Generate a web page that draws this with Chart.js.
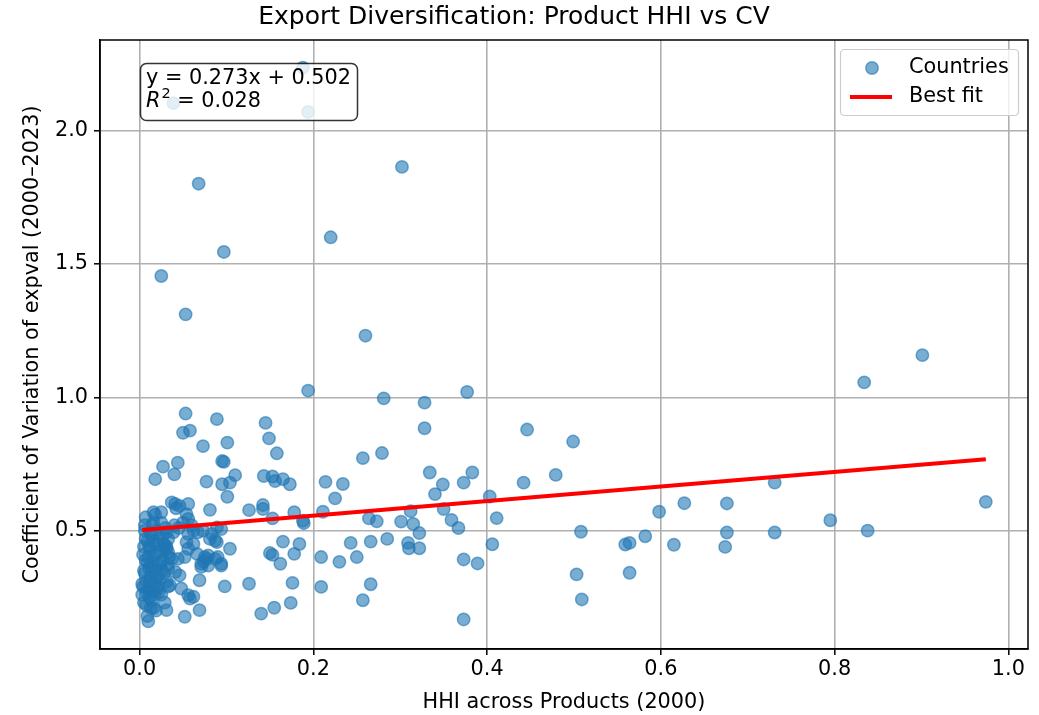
<!DOCTYPE html>
<html>
<head>
<meta charset="utf-8">
<script src="https://cdn.jsdelivr.net/npm/chart.js@4.4.1/dist/chart.umd.min.js"></script>
<style>
html,body{margin:0;padding:0;background:#fff;}
#wrap{width:1039px;height:715px;position:relative;}
</style>
</head>
<body>
<div id="wrap"><canvas id="c" width="1039" height="715"></canvas></div>
<script>
// ---- Data ----
const hhi = [
  0.188,0.039,0.194,0.302,0.068,0.220,0.097,0.025,0.053,0.260,
  0.194,0.281,0.377,0.328,0.328,0.446,0.499,0.901,0.834,0.053,
  0.089,0.145,0.050,0.058,0.149,0.101,0.073,0.158,0.279,0.257,
  0.095,0.097,0.044,0.027,0.040,0.110,0.143,0.153,0.018,0.156,
  0.165,0.077,0.095,0.104,0.173,0.214,0.234,0.334,0.383,0.479,
  0.349,0.373,0.442,0.731,0.101,0.225,0.340,0.403,0.627,0.676,
  0.974,0.598,0.037,0.041,0.046,0.056,0.042,0.054,0.056,0.081,
  0.016,0.025,0.126,0.142,0.142,0.153,0.178,0.188,0.189,0.211,
  0.264,0.273,0.301,0.312,0.315,0.322,0.350,0.359,0.367,0.411,
  0.089,0.094,0.795,0.838,0.508,0.582,0.676,0.731,0.031,0.039,
  0.033,0.029,0.056,0.062,0.067,0.073,0.081,0.087,0.083,0.104,
  0.054,0.062,0.056,0.066,0.052,0.044,0.037,0.033,0.075,0.079,
  0.087,0.090,0.094,0.071,0.089,0.150,0.153,0.162,0.165,0.178,
  0.184,0.209,0.243,0.266,0.285,0.309,0.310,0.322,0.406,0.230,
  0.250,0.373,0.389,0.559,0.564,0.615,0.674,0.031,0.033,0.041,
  0.046,0.031,0.035,0.048,0.056,0.062,0.058,0.069,0.071,0.079,
  0.094,0.098,0.069,0.052,0.031,0.126,0.140,0.155,0.174,0.176,
  0.209,0.266,0.257,0.373,0.503,0.509,0.564,0.074,0.077,0.003,
  0.004,0.005,0.006,0.006,0.007,0.008,0.008,0.009,0.010,0.010,
  0.011,0.012,0.012,0.013,0.013,0.014,0.015,0.015,0.016,0.017,
  0.018,0.018,0.019,0.020,0.020,0.021,0.022,0.023,0.024,0.025,
  0.026,0.027,0.028,0.029,0.030,0.031,0.033,0.034,0.006,0.009,
  0.011,0.014,0.016,0.019,0.022,0.004,0.007,0.018,0.025,0.040,
  0.045,0.050,0.060,0.003,0.005,0.010,0.005,0.008,0.012,0.014,
  0.017,0.019,0.021,0.023,0.026,0.011,0.007,0.016,0.013,0.024,
  0.009,0.020,0.028,0.032
];
const cv = [
  2.236,2.103,2.070,1.864,1.801,1.600,1.545,1.455,1.311,1.231,
  1.025,0.996,1.020,0.980,0.884,0.879,0.834,1.158,1.056,0.939,
  0.918,0.904,0.867,0.875,0.846,0.830,0.817,0.790,0.791,0.772,
  0.761,0.758,0.755,0.740,0.711,0.708,0.705,0.703,0.693,0.686,
  0.693,0.684,0.674,0.680,0.674,0.683,0.675,0.718,0.718,0.709,
  0.673,0.680,0.680,0.680,0.627,0.621,0.637,0.628,0.603,0.602,
  0.608,0.571,0.606,0.600,0.593,0.600,0.584,0.562,0.544,0.578,
  0.569,0.569,0.577,0.596,0.581,0.546,0.569,0.537,0.528,0.571,
  0.546,0.535,0.534,0.573,0.525,0.491,0.581,0.540,0.510,0.547,
  0.512,0.506,0.539,0.500,0.496,0.479,0.493,0.493,0.494,0.494,
  0.469,0.444,0.488,0.500,0.494,0.500,0.469,0.463,0.488,0.432,
  0.457,0.450,0.432,0.413,0.401,0.394,0.394,0.419,0.401,0.407,
  0.394,0.401,0.376,0.376,0.457,0.416,0.409,0.376,0.459,0.413,
  0.450,0.401,0.454,0.459,0.469,0.454,0.434,0.434,0.449,0.383,
  0.401,0.392,0.377,0.448,0.454,0.447,0.439,0.434,0.357,0.345,
  0.332,0.308,0.295,0.283,0.258,0.252,0.245,0.314,0.364,0.369,
  0.369,0.291,0.202,0.177,0.202,0.301,0.189,0.211,0.229,0.304,
  0.289,0.299,0.239,0.167,0.336,0.242,0.342,0.384,0.394,0.26,
  0.29,0.44,0.50,0.52,0.47,0.31,0.22,0.18,0.16,0.40,
  0.36,0.43,0.49,0.27,0.33,0.24,0.38,0.52,0.46,0.30,
  0.35,0.41,0.20,0.28,0.50,0.45,0.37,0.32,0.42,0.26,
  0.48,0.39,0.34,0.23,0.51,0.44,0.29,0.40,0.34,0.38,
  0.25,0.48,0.21,0.32,0.27,0.41,0.55,0.56,0.53,0.52,
  0.51,0.53,0.52,0.30,0.23,0.28,0.35,0.27,0.31,0.36,
  0.26,0.42,0.29,0.47,0.35,0.44,0.39,0.53,0.21,0.38,
  0.46,0.33,0.45,0.37
];
const fitSlope = 0.273;
const fitIntercept = 0.502;
const fitR2 = 0.028;
const xTicks = [0.0, 0.2, 0.4, 0.6, 0.8, 1.0];
const yTicks = [0.5, 1.0, 1.5, 2.0];
const titleText = 'Export Diversification: Product HHI vs CV';
const xLabel = 'HHI across Products (2000)';
const yLabel = 'Coefficient of Variation of expval (2000\u20132023)';
const seriesNames = ['Countries', 'Best fit'];

// ---- build datasets ----
const pts = hhi.map((x, i) => ({x: x, y: cv[i]}));
const dxMin = Math.min(...hhi), dxMax = Math.max(...hhi);
const dyMin = Math.min(...cv), dyMax = Math.max(...cv);
const padX = (dxMax - dxMin) * 0.05, padY = (dyMax - dyMin) * 0.05;
const fitPts = [dxMin, dxMax].map(x => ({x: x, y: fitSlope * x + fitIntercept}));

const FONT = 'DejaVu Sans';
const FS = 20.8;
const blueFill = 'rgba(31,119,180,0.6)';

const decor = {
  id: 'decor',
  afterDatasetsDraw(chart) {
    const ctx = chart.ctx, a = chart.chartArea;
    ctx.save();
    // frame
    ctx.strokeStyle = '#000'; ctx.lineWidth = 1.5;
    ctx.strokeRect(a.left, a.top, a.right - a.left, a.bottom - a.top);
    // annotation box
    ctx.beginPath();
    ctx.roundRect(140.5, 63.5, 217, 57, 6);
    ctx.fillStyle = 'rgba(255,255,255,0.8)'; ctx.fill();
    ctx.strokeStyle = 'rgba(0,0,0,0.8)'; ctx.lineWidth = 1.5; ctx.stroke();
    ctx.fillStyle = '#000'; ctx.textBaseline = 'middle'; ctx.textAlign = 'left';
    ctx.font = FS + 'px "' + FONT + '"';
    ctx.fillText('y = ' + fitSlope.toFixed(3) + 'x + ' + fitIntercept.toFixed(3), 146, 79);
    ctx.font = 'italic ' + FS + 'px "' + FONT + '"';
    ctx.fillText('R', 146, 102);
    let w = ctx.measureText('R').width;
    ctx.font = '14.5px "' + FONT + '"';
    ctx.fillText('2', 146 + w + 1, 94);
    let w2 = ctx.measureText('2').width;
    ctx.font = FS + 'px "' + FONT + '"';
    ctx.fillText(' = ' + fitR2.toFixed(3), 146 + w + w2 + 1, 102);
    // legend
    ctx.beginPath();
    ctx.roundRect(840.5, 49.5, 178, 66, 4);
    ctx.fillStyle = 'rgba(255,255,255,0.8)'; ctx.fill();
    ctx.strokeStyle = '#cccccc'; ctx.lineWidth = 1.2; ctx.stroke();
    ctx.beginPath(); ctx.arc(872, 68, 6.2, 0, Math.PI * 2);
    ctx.fillStyle = blueFill; ctx.fill();
    ctx.strokeStyle = blueFill; ctx.lineWidth = 1.5; ctx.stroke();
    ctx.beginPath(); ctx.moveTo(850, 97); ctx.lineTo(892, 97);
    ctx.strokeStyle = '#ff0000'; ctx.lineWidth = 4; ctx.stroke();
    ctx.fillStyle = '#000'; ctx.font = FS + 'px "' + FONT + '"';
    ctx.fillText(seriesNames[0], 909, 68);
    ctx.fillText(seriesNames[1], 909, 97);
    ctx.restore();
  }
};

new Chart(document.getElementById('c'), {
  type: 'scatter',
  data: {
    datasets: [
      {label: seriesNames[1], type: 'line', data: fitPts, borderColor: '#ff0000', borderWidth: 4,
       pointRadius: 0, fill: false, tension: 0, order: 0},
      {label: seriesNames[0], data: pts, pointRadius: 6.2, pointHoverRadius: 6.2,
       backgroundColor: blueFill, borderColor: blueFill, borderWidth: 1.5, order: 1}
    ]
  },
  options: {
    responsive: false, animation: false, devicePixelRatio: 1,
    layout: {padding: {left: 0, right: 11, top: 0, bottom: 0}},
    plugins: {
      legend: {display: false}, tooltip: {enabled: false},
      title: {display: true, text: titleText, color: '#000',
              font: {family: FONT, size: 25, weight: 'normal'}, padding: {top: 2.5, bottom: 7.5}}
    },
    scales: {
      x: {
        type: 'linear', min: dxMin - padX, max: dxMax + padX,
        afterBuildTicks: s => { s.ticks = xTicks.map(v => ({value: v})); },
        afterFit: s => { s.height = 66; },
        grid: {color: '#b0b0b0', lineWidth: 1.6, tickLength: 6, tickColor: '#000', tickWidth: 1.5},
        border: {color: '#000', width: 1.5},
        ticks: {color: '#000', font: {family: FONT, size: FS}, padding: 2, maxRotation: 0, autoSkip: false,
                callback: v => Number(v).toFixed(1)},
        title: {display: true, text: xLabel, color: '#000', font: {family: FONT, size: FS},
                padding: {top: 0, bottom: 0}}
      },
      y: {
        type: 'linear', min: dyMin - padY, max: dyMax + padY,
        afterBuildTicks: s => { s.ticks = yTicks.map(v => ({value: v})); },
        afterFit: s => { s.width = 100; },
        grid: {color: '#b0b0b0', lineWidth: 1.6, tickLength: 6, tickColor: '#000', tickWidth: 1.5},
        border: {color: '#000', width: 1.5},
        ticks: {color: '#000', font: {family: FONT, size: FS}, padding: 6, autoSkip: false,
                callback: v => Number(v).toFixed(1)},
        title: {display: true, text: yLabel, color: '#000', font: {family: FONT, size: FS},
                padding: {top: 20, bottom: 0}}
      }
    }
  },
  plugins: [decor]
});
</script>
</body>
</html>
